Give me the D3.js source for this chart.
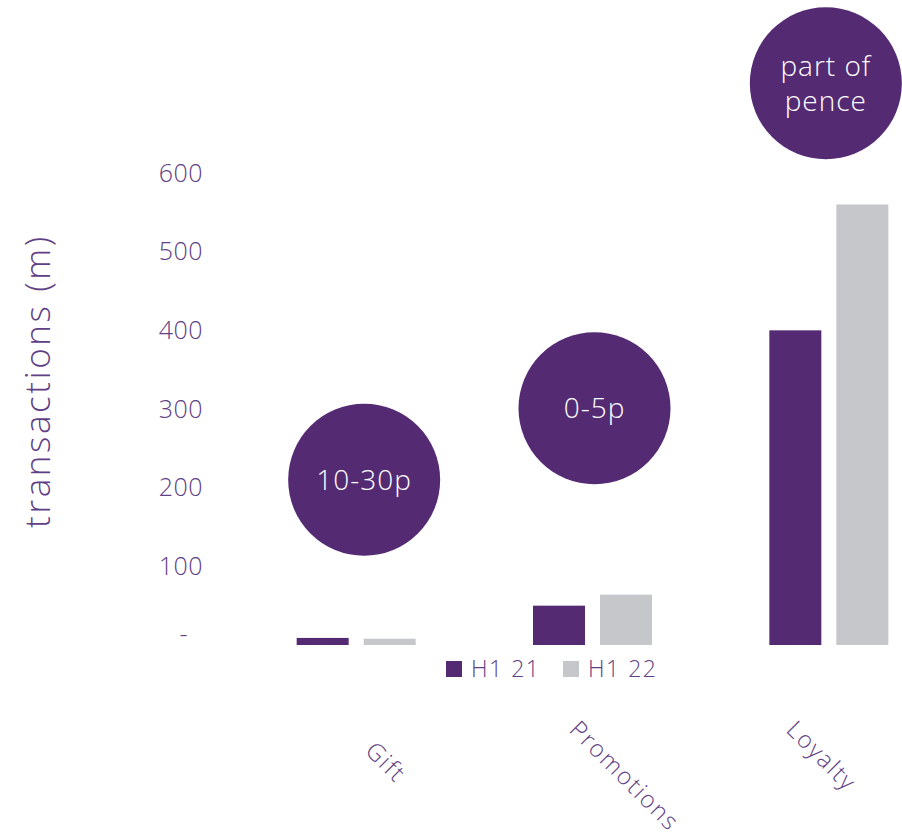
<!DOCTYPE html>
<html>
<head>
<meta charset="utf-8">
<script src="https://cdnjs.cloudflare.com/ajax/libs/d3/7.8.5/d3.min.js"></script>
<style>
  body { margin: 0; background: #fff; }
  text { font-family: "Open Sans", Lato, sans-serif; font-weight: 300; }
</style>
</head>
<body>
<svg id="chart" width="902" height="840"></svg>
<script>
// values
var categories = ['Gift', 'Promotions', 'Loyalty']
var series = ['H1 21', 'H1 22']
var h121 = [9, 50, 400]
var h122 = [8, 64, 560]
var yTicks = [0, 100, 200, 300, 400, 500, 600]
var bubbleText = [['10-30p'], ['0-5p'], ['part of', 'pence']]
var bubbleLevel = [210, 301, 714]

var purple = '#542a73'
var grey = '#c6c7cb'
var ink = '#5f3f85'

var svg = d3.select('#chart')

var y = d3.scaleLinear().domain([0, 600]).range([645, 173])
var x = d3.scaleBand().domain(categories).range([238, 947])
var xs = d3.scaleBand().domain(series).range([-59.5, 59.5]).paddingInner(0.224)
var colour = d3.scaleOrdinal().domain(series).range([purple, grey])

function mid (c) { return x(c) + x.bandwidth() / 2 }

// y axis, labels only
var yAxis = svg.append('g')
  .attr('transform', 'translate(203,0)')
  .call(d3.axisLeft(y).tickValues(yTicks).tickSize(0).tickPadding(0)
    .tickFormat(function (d) { return d === 0 ? '-' : d }))
yAxis.select('.domain').remove()
yAxis.selectAll('text')
  .attr('font-size', 25)
  .attr('fill', ink)
  .attr('letter-spacing', 0.5)
  .attr('font-family', '"Open Sans", Lato, sans-serif')
yAxis.selectAll('.tick').filter(function (d) { return d === 0 })
  .select('text').attr('dx', -15).attr('dy', '-0.1em')

svg.append('text')
  .attr('transform', 'translate(50,381) rotate(-90)')
  .attr('text-anchor', 'middle')
  .attr('font-size', 35)
  .attr('letter-spacing', 2.6)
  .attr('fill', ink)
  .text('transactions (m)')

// bars
var rows = categories.map(function (c, i) {
  return { cat: c, vals: [{ s: series[0], v: h121[i] }, { s: series[1], v: h122[i] }] }
})
var groups = svg.selectAll('g.cat')
  .data(rows)
  .enter().append('g')
  .attr('class', 'cat')
  .attr('transform', function (d) { return 'translate(' + mid(d.cat) + ',0)' })
groups.selectAll('rect')
  .data(function (d) { return d.vals })
  .enter().append('rect')
  .attr('x', function (d) { return xs(d.s) })
  .attr('width', xs.bandwidth())
  .attr('y', function (d) { return y(d.v) })
  .attr('height', function (d) { return y(0) - y(d.v) })
  .attr('fill', function (d) { return colour(d.s) })

// bubbles
var bubbleShift = [8, 2, -3]
var bubbles = svg.selectAll('g.bubble')
  .data(categories)
  .enter().append('g')
  .attr('class', 'bubble')
  .attr('transform', function (d, i) {
    return 'translate(' + (mid(d) + bubbleShift[i]) + ',' + y(bubbleLevel[i]) + ')'
  })
bubbles.append('circle')
  .attr('r', 76)
  .attr('fill', purple)
bubbles.each(function (d, i) {
  var lines = bubbleText[i]
  var t = d3.select(this).append('text')
    .attr('text-anchor', 'middle')
    .attr('font-size', 28)
    .attr('letter-spacing', 1)
    .attr('fill', '#fff')
  lines.forEach(function (l, j) {
    t.append('tspan')
      .attr('x', 0)
      .attr('y', (j - (lines.length - 1) / 2) * 35)
      .attr('dy', '0.35em')
      .text(l)
  })
})

// legend
var legend = svg.append('g').attr('transform', 'translate(446,661)')
var item = legend.selectAll('g')
  .data(series)
  .enter().append('g')
  .attr('transform', function (d, i) { return 'translate(' + i * 117 + ',0)' })
item.append('rect')
  .attr('width', 16)
  .attr('height', 16)
  .attr('fill', function (d) { return colour(d) })
item.append('text')
  .attr('x', 25)
  .attr('y', 16)
  .attr('font-size', 23)
  .attr('letter-spacing', 1.5)
  .attr('fill', ink)
  .text(function (d) { return d })

// category labels, slanted
var labelAt = [[364, 752], [568, 731], [785, 731]]
svg.selectAll('text.cat')
  .data(categories)
  .enter().append('text')
  .attr('class', 'cat')
  .attr('transform', function (d, i) {
    return 'translate(' + labelAt[i][0] + ',' + labelAt[i][1] + ') rotate(45)'
  })
  .attr('font-size', 24)
  .attr('letter-spacing', 1.8)
  .attr('fill', ink)
  .text(function (d) { return d })
</script>
</body>
</html>
